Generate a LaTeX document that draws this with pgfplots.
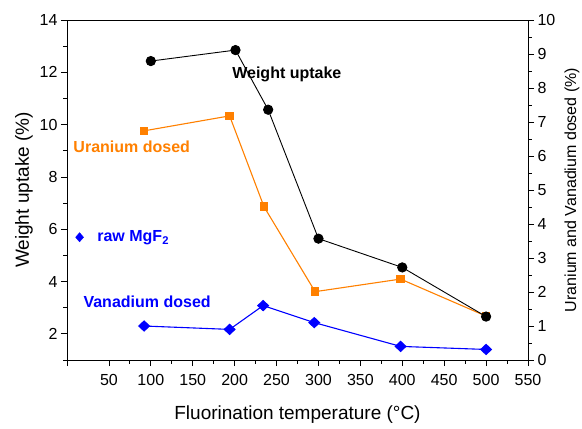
\documentclass[border=0pt]{standalone}
\usepackage{pgfplots}
\pgfplotsset{compat=1.18}
\usepackage{fontspec}
\setmainfont{Liberation Sans}
\definecolor{uorange}{RGB}{255,128,0}
\definecolor{vblue}{RGB}{0,0,255}
\begin{document}
\begin{tikzpicture}
\path[use as bounding box] (-67pt,-69pt) rectangle (515pt,360pt);
\pgfplotsset{
 common/.style={
  scale only axis, width=461pt, height=340pt,
  xmin=0, xmax=550,
  tick align=outside,
  major tick length=6pt, minor tick length=3.5pt,
  every tick/.style={black, line width=0.8pt},
  axis line style={line width=0.8pt},
  tick label style={font=\fontsize{16}{16}\selectfont},
  /pgf/number format/assume math mode=true,
 }
}
% right axis: uranium and vanadium dosed
\begin{axis}[common,
  axis y line*=right, axis x line=none,
  ymin=0, ymax=10, ytick={0,1,...,10}, minor y tick num=1,
  ylabel={Uranium and Vanadium dosed (\%)},
  every axis y label/.style={at={(axis description cs:1.0954,0.5)}, rotate=90, anchor=center, font=\fontsize{16}{16}\selectfont},
]
\addplot[uorange, line width=1.1pt, mark=square*, mark size=3.65pt, mark options={solid}] coordinates {
 (92,6.74) (194,7.18) (235,4.51) (296,2.01) (398,2.38) (500,1.29)
};
\addplot[vblue, line width=1.1pt, mark=diamond*, mark size=5pt, mark options={xscale=1.42}] coordinates {
 (92,1.00) (194,0.90) (234,1.60) (295,1.10) (398,0.40) (500,0.31)
};
\addplot[vblue, only marks, mark=diamond*, mark size=4.6pt, mark options={xscale=1.15}] coordinates {
 (15,3.61)
};
\end{axis}
% left axis: weight uptake
\begin{axis}[common, name=ax,
  axis lines=box, xtick pos=left, ytick pos=left,
  ymin=1, ymax=14, ytick={2,4,...,14}, minor ytick={1,3,...,13},
  xtick={50,100,...,550}, minor x tick num=1,
  extra x ticks={0}, extra x tick labels={},
  xticklabel style={yshift=-5pt},
  xlabel={Fluorination temperature (°C)},
  ylabel={Weight uptake (\%)},
  every axis x label/.style={at={(axis description cs:0.5,-0.162)}, anchor=center, font=\fontsize{19}{19}\selectfont},
  every axis y label/.style={at={(axis description cs:-0.0935,0.5)}, rotate=90, anchor=center, font=\fontsize{19}{19}\selectfont},
]
\addplot[black, line width=0.9pt, mark=*, mark size=4.65pt] coordinates {
 (100,12.43) (201,12.85) (240,10.57) (300,5.64) (400,4.54) (500,2.66)
};
\node[anchor=west, inner sep=0pt, font=\bfseries\fontsize{16}{16}\selectfont, text=black] at (axis cs:197,11.92) {Weight uptake};
\node[anchor=west, inner sep=0pt, font=\bfseries\fontsize{16}{16}\selectfont, text=uorange] at (axis cs:7.5,9.16) {Uranium dosed};
\node[anchor=west, inner sep=0pt, font=\bfseries\fontsize{16}{16}\selectfont, text=vblue] at (axis cs:36,5.67) {raw MgF\textsubscript{2}};
\node[anchor=west, inner sep=0pt, font=\bfseries\fontsize{16}{16}\selectfont, text=vblue] at (axis cs:19.5,3.22) {Vanadium dosed};
\end{axis}
\end{tikzpicture}
\end{document}
